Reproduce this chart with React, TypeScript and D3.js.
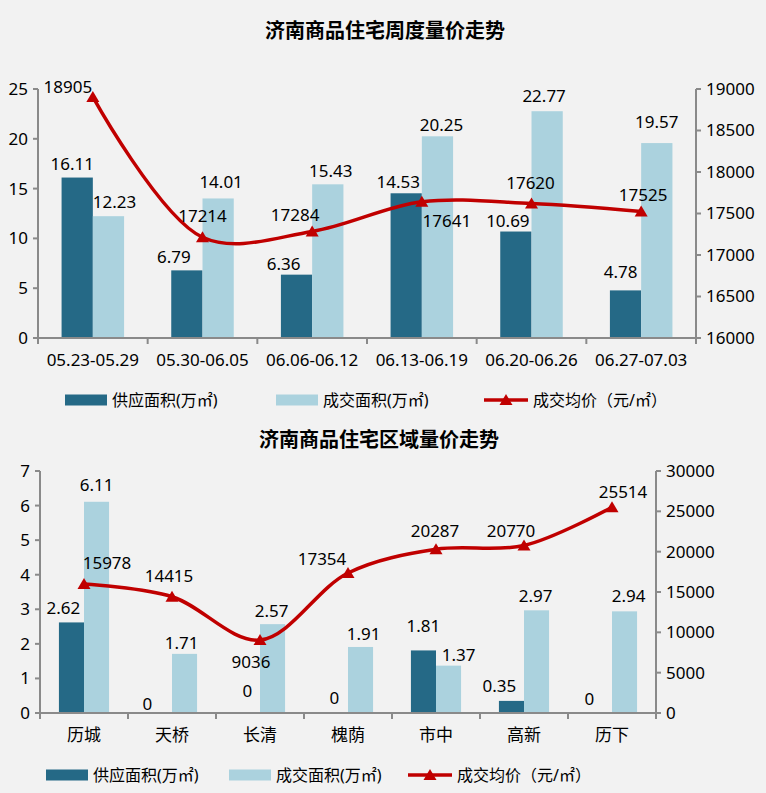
import React from 'react';
import * as d3 from 'd3';

// ---------- data ----------
const weeks = ['05.23-05.29', '05.30-06.05', '06.06-06.12', '06.13-06.19', '06.20-06.26', '06.27-07.03'];
const weekSupply = [16.11, 6.79, 6.36, 14.53, 10.69, 4.78];
const weekDeal = [12.23, 14.01, 15.43, 20.25, 22.77, 19.57];
const weekPrice = [18905, 17214, 17284, 17641, 17620, 17525];
const weekLeftTicks = [0, 5, 10, 15, 20, 25];
const weekRightTicks = [16000, 16500, 17000, 17500, 18000, 18500, 19000];

const districts = ['历城', '天桥', '长清', '槐荫', '市中', '高新', '历下'];
const districtSupply = [2.62, 0, 0, 0, 1.81, 0.35, 0];
const districtDeal = [6.11, 1.71, 2.57, 1.91, 1.37, 2.97, 2.94];
const districtPrice = [15978, 14415, 9036, 17354, 20287, 20770, 25514];
const districtLeftTicks = [0, 1, 2, 3, 4, 5, 6, 7];
const districtRightTicks = [0, 5000, 10000, 15000, 20000, 25000, 30000];

const legendNames = ['供应面积(万㎡)', '成交面积(万㎡)', '成交均价（元/㎡）'];

// ---------- label placement (style) ----------
// [dx from bar centre, gap between baseline and bar top]
const weekSupplyLbl = [[-5, 8], [-13, 7], [-13, 5], [-8, 5], [-8, 5], [-5, 12]];
const weekDealLbl = [[6, 8], [3, 10], [3, 7], [4, 5], [-3, 9], [0, 15]];
// [dx, dy] of label baseline-centre from point
const weekPriceLbl = [[-25, -4], [0, -15], [-17, -10], [25, 25], [-1, -15], [2, -10]];
const districtSupplyLbl = [[-8, 8], [-12, 3], [0, 16], [-1, 9], [0, 18], [-12, 9], [-10, 8]];
const districtDealLbl = [[0, 11], [-3, 5], [-1, 7], [3, 7], [10, 5], [-1, 8], [4, 9]];
const districtPriceLbl = [[23, -15], [-3, -15], [-9, 28], [-26, -8], [-1, -12], [-13, -8], [11, -9]];

const DARK = '#256986';
const LIGHT = '#abd2de';
const RED = '#c00000';
const AXIS = '#8a8a8a';
const FONT = '"Noto Sans", "Noto Sans CJK SC", sans-serif';

type PanelProps = {
  title: string; titleX: number; titleY: number;
  cats: string[]; supply: number[]; deal: number[]; price: number[];
  leftTicks: number[]; rightTicks: number[];
  x0: number; x1: number; y0: number; y1: number;
  catY: number;
  supplyLbl: number[][]; dealLbl: number[][]; priceLbl: number[][];
  legendY: number; legendX: number[];
};

function tri(cx: number, cy: number) {
  return `M${cx},${cy - 6}L${cx + 6.5},${cy + 5}L${cx - 6.5},${cy + 5}Z`;
}

function Panel(p: PanelProps) {
  const x = d3.scaleBand<string>().domain(p.cats).range([p.x0, p.x1]).paddingInner(0).paddingOuter(0);
  const yL = d3.scaleLinear().domain([p.leftTicks[0], p.leftTicks[p.leftTicks.length - 1]]).range([p.y1, p.y0]);
  const yR = d3.scaleLinear().domain([p.rightTicks[0], p.rightTicks[p.rightTicks.length - 1]]).range([p.y1, p.y0]);
  const bw = x.bandwidth() * 0.285;
  const cx = (c: string) => (x(c) as number) + x.bandwidth() / 2;
  const line = d3.line<number>()
    .x((_, i) => cx(p.cats[i]))
    .y(d => yR(d))
    .curve(d3.curveCatmullRom.alpha(0.5));
  const bounds = [...p.cats.map(c => x(c) as number), p.x1];
  return (
    <g fontFamily={FONT} fill="#000">
      <text x={p.titleX} y={p.titleY} textAnchor="middle" fontSize={20} fontWeight="bold">{p.title}</text>
      {p.cats.map((c, i) => (
        <g key={c}>
          <rect x={cx(c) - bw} y={yL(p.supply[i])} width={bw} height={p.y1 - yL(p.supply[i])} fill={DARK} />
          <rect x={cx(c)} y={yL(p.deal[i])} width={bw} height={p.y1 - yL(p.deal[i])} fill={LIGHT} />
        </g>
      ))}
      <line x1={p.x0} x2={p.x0} y1={p.y0} y2={p.y1} stroke={AXIS} strokeWidth={2} />
      <line x1={p.x1} x2={p.x1} y1={p.y0} y2={p.y1} stroke={AXIS} strokeWidth={2} />
      <line x1={p.x0} x2={p.x1} y1={p.y1} y2={p.y1} stroke={AXIS} strokeWidth={2} />
      {p.leftTicks.map(t => (
        <g key={'l' + t}>
          <line x1={p.x0 - 5} x2={p.x0} y1={yL(t)} y2={yL(t)} stroke={AXIS} strokeWidth={2} />
          <text x={p.x0 - 10} y={yL(t)} dy="0.35em" textAnchor="end" fontSize={17}>{t}</text>
        </g>
      ))}
      {p.rightTicks.map(t => (
        <g key={'r' + t}>
          <line x1={p.x1} x2={p.x1 + 5} y1={yR(t)} y2={yR(t)} stroke={AXIS} strokeWidth={2} />
          <text x={p.x1 + 10} y={yR(t)} dy="0.35em" textAnchor="start" fontSize={17}>{t}</text>
        </g>
      ))}
      {bounds.map((b, i) => (
        <line key={'t' + i} x1={b} x2={b} y1={p.y1} y2={p.y1 + 6} stroke={AXIS} strokeWidth={2} />
      ))}
      {p.cats.map(c => (
        <text key={'c' + c} x={cx(c)} y={p.catY} textAnchor="middle" fontSize={17}>{c}</text>
      ))}
      <path d={line(p.price) || ''} fill="none" stroke={RED} strokeWidth={3.5} />
      {p.price.map((v, i) => (
        <path key={'m' + i} d={tri(cx(p.cats[i]), yR(v))} fill={RED} />
      ))}
      {p.cats.map((c, i) => (
        <g key={'lb' + c} fontSize={17}>
          <text x={cx(c) - bw / 2 + p.supplyLbl[i][0]} y={yL(p.supply[i]) - p.supplyLbl[i][1]} textAnchor="middle">{p.supply[i]}</text>
          <text x={cx(c) + bw / 2 + p.dealLbl[i][0]} y={yL(p.deal[i]) - p.dealLbl[i][1]} textAnchor="middle">{p.deal[i]}</text>
          <text x={cx(c) + p.priceLbl[i][0]} y={yR(p.price[i]) + p.priceLbl[i][1]} textAnchor="middle">{p.price[i]}</text>
        </g>
      ))}
      <g fontSize={16}>
        <rect x={p.legendX[0]} y={p.legendY - 5.5} width={42} height={11} fill={DARK} />
        <text x={p.legendX[0] + 47} y={p.legendY} dy="0.35em">{legendNames[0]}</text>
        <rect x={p.legendX[1]} y={p.legendY - 5.5} width={42} height={11} fill={LIGHT} />
        <text x={p.legendX[1] + 47} y={p.legendY} dy="0.35em">{legendNames[1]}</text>
        <line x1={p.legendX[2]} x2={p.legendX[2] + 44} y1={p.legendY} y2={p.legendY} stroke={RED} strokeWidth={3.5} />
        <path d={tri(p.legendX[2] + 22, p.legendY)} fill={RED} />
        <text x={p.legendX[2] + 49} y={p.legendY} dy="0.35em">{legendNames[2]}</text>
      </g>
    </g>
  );
}

export default function App() {
  return (
    <svg width={766} height={793} style={{ position: 'absolute', left: 0, top: 0, display: 'block' }}>
      <rect x={0} y={0} width={766} height={793} fill="#f2f2f2" />
      <Panel
        title="济南商品住宅周度量价走势" titleX={385} titleY={38}
        cats={weeks} supply={weekSupply} deal={weekDeal} price={weekPrice}
        leftTicks={weekLeftTicks} rightTicks={weekRightTicks}
        x0={38} x1={696} y0={89} y1={338} catY={366}
        supplyLbl={weekSupplyLbl} dealLbl={weekDealLbl} priceLbl={weekPriceLbl}
        legendY={400} legendX={[65, 276, 484]}
      />
      <Panel
        title="济南商品住宅区域量价走势" titleX={379} titleY={447}
        cats={districts} supply={districtSupply} deal={districtDeal} price={districtPrice}
        leftTicks={districtLeftTicks} rightTicks={districtRightTicks}
        x0={40} x1={656} y0={471} y1={713} catY={741}
        supplyLbl={districtSupplyLbl} dealLbl={districtDealLbl} priceLbl={districtPriceLbl}
        legendY={775} legendX={[46, 229, 408]}
      />
    </svg>
  );
}
